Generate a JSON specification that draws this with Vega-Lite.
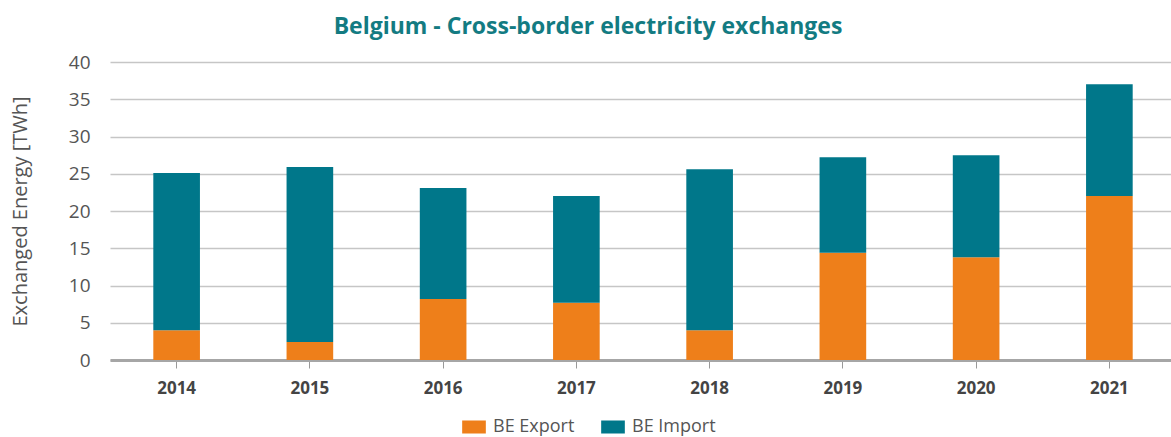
{
  "$schema": "https://vega.github.io/schema/vega-lite/v6.json",
  "width": 1066,
  "height": 298,
  "autosize": "none",
  "padding": {"left": 110, "top": 62, "right": 0, "bottom": 77},
  "background": "white",
  "title": {
    "text": "Belgium - Cross-border electricity exchanges",
    "font": "Open Sans",
    "fontSize": 23,
    "fontWeight": "bold",
    "color": "#137b82",
    "anchor": "middle",
    "dx": -55,
    "offset": 14
  },
  "data": {
    "values": [
      {"year": "2014", "type": "BE Export", "value": 4.0},
      {"year": "2014", "type": "BE Import", "value": 21.1},
      {"year": "2015", "type": "BE Export", "value": 2.4},
      {"year": "2015", "type": "BE Import", "value": 23.5},
      {"year": "2016", "type": "BE Export", "value": 8.2},
      {"year": "2016", "type": "BE Import", "value": 14.9},
      {"year": "2017", "type": "BE Export", "value": 7.7},
      {"year": "2017", "type": "BE Import", "value": 14.3},
      {"year": "2018", "type": "BE Export", "value": 4.0},
      {"year": "2018", "type": "BE Import", "value": 21.6},
      {"year": "2019", "type": "BE Export", "value": 14.4},
      {"year": "2019", "type": "BE Import", "value": 12.8},
      {"year": "2020", "type": "BE Export", "value": 13.8},
      {"year": "2020", "type": "BE Import", "value": 13.7},
      {"year": "2021", "type": "BE Export", "value": 22.0},
      {"year": "2021", "type": "BE Import", "value": 15.0}
    ]
  },
  "mark": {"type": "bar"},
  "encoding": {
    "x": {
      "field": "year",
      "type": "ordinal",
      "scale": {"paddingInner": 0.65, "paddingOuter": 0.325},
      "axis": {
        "title": null,
        "labelAngle": 0,
        "labelFont": "Open Sans",
        "labelFontSize": 17,
        "labelFontWeight": "bold",
        "labelColor": "#444444",
        "labelPadding": 12,
        "domainColor": "#a6a6a6",
        "domainWidth": 3,
        "tickColor": "#999999",
        "tickSize": 8,
        "grid": false
      }
    },
    "y": {
      "field": "value",
      "type": "quantitative",
      "stack": "zero",
      "scale": {"domain": [0, 40]},
      "axis": {
        "title": "Exchanged Energy [TWh]",
        "titleFont": "Open Sans",
        "titleFontSize": 20,
        "titleFontWeight": "normal",
        "titleColor": "#555555",
        "titlePadding": 38,
        "values": [0, 5, 10, 15, 20, 25, 30, 35, 40],
        "labelOverlap": false,
        "labelFont": "Open Sans",
        "labelFontSize": 19,
        "labelColor": "#555555",
        "labelPadding": 20,
        "domain": false,
        "ticks": false,
        "grid": true,
        "gridColor": "#c6c6c6",
        "gridWidth": 1.5
      }
    },
    "color": {
      "field": "type",
      "type": "nominal",
      "scale": {"domain": ["BE Export", "BE Import"], "range": ["#ee7f1a", "#00778a"]},
      "legend": {
        "title": null,
        "orient": "none",
        "direction": "horizontal",
        "legendX": 352,
        "legendY": 353,
        "labelFont": "Open Sans",
        "labelFontSize": 18,
        "labelColor": "#555555",
        "symbolType": "M-1,-0.55L1,-0.55L1,0.55L-1,0.55Z",
        "symbolSize": 560,
        "symbolStrokeWidth": 0,
        "symbolOpacity": 1,
        "columnPadding": 26,
        "labelOffset": 7
      }
    },
    "order": {"field": "type", "sort": "ascending"}
  },
  "config": {"view": {"stroke": null}}
}
